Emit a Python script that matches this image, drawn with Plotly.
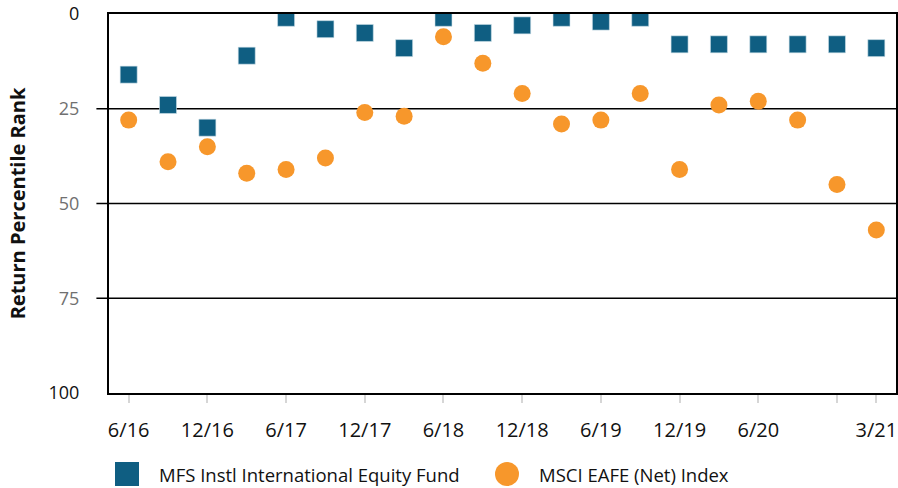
import plotly.graph_objects as go

quarters = ["6/16", "9/16", "12/16", "3/17", "6/17", "9/17", "12/17", "3/18", "6/18", "9/18",
            "12/18", "3/19", "6/19", "9/19", "12/19", "3/20", "6/20", "9/20", "12/20", "3/21"]
fund_rank = [16, 24, 30, 11, 1, 4, 5, 9, 1, 5, 3, 1, 2, 1, 8, 8, 8, 8, 8, 9]
index_rank = [28, 39, 35, 42, 41, 38, 26, 27, 6, 13, 21, 29, 28, 21, 41, 24, 23, 28, 45, 57]
tick_quarters = ["6/16", "12/16", "6/17", "12/17", "6/18", "12/18", "6/19", "12/19", "6/20", "12/20", "3/21"]
tick_labels = ["6/16", "12/16", "6/17", "12/17", "6/18", "12/18", "6/19", "12/19", "6/20", "", "3/21"]
y_ticks = [0, 25, 50, 75, 100]
grid_levels = [25, 50, 75]
series_names = ["MFS Instl International Equity Fund", "MSCI EAFE (Net) Index"]

FONT = "Open Sans"
fund_color = "#0f5e82"
index_color = "#f7972b"
text_color = "#111111"

fig = go.Figure()
fig.add_trace(go.Scatter(
    x=quarters, y=fund_rank, mode="markers", name=series_names[0], showlegend=False,
    marker=dict(symbol="square", size=17, color=fund_color, line=dict(width=0.6, color="#cfe0ea")),
))
fig.add_trace(go.Scatter(
    x=quarters, y=index_rank, mode="markers", name=series_names[1], showlegend=False,
    marker=dict(symbol="circle", size=17, color=index_color, line=dict(width=0)),
))

for lv in grid_levels:
    fig.add_shape(type="line", xref="paper", yref="y", x0=-0.016, x1=1, y0=lv, y1=lv,
                  line=dict(color="black", width=1.6), layer="below")

# manual legend (larger symbols than plotly's built-in legend allows)
PW, PH = 787.0, 379.0  # plot area size in px
leg_y = (393 - 474) / PH
fig.add_shape(type="rect", xref="paper", yref="paper", xsizemode="pixel", ysizemode="pixel",
              xanchor=(127 - 109) / PW, yanchor=leg_y, x0=-12, x1=12, y0=-12, y1=12,
              fillcolor=fund_color, line=dict(width=0))
fig.add_shape(type="circle", xref="paper", yref="paper", xsizemode="pixel", ysizemode="pixel",
              xanchor=(507 - 109) / PW, yanchor=leg_y, x0=-12, x1=12, y0=-12, y1=12,
              fillcolor=index_color, line=dict(width=0))
fig.add_annotation(x=(157 - 109) / PW, y=leg_y, xref="paper", yref="paper", xanchor="left",
                   yanchor="middle", showarrow=False, text=series_names[0],
                   font=dict(family=FONT, size=18.5, color=text_color))
fig.add_annotation(x=(537 - 109) / PW, y=leg_y, xref="paper", yref="paper", xanchor="left",
                   yanchor="middle", showarrow=False, text=series_names[1],
                   font=dict(family=FONT, size=18.5, color=text_color))

y_text = []
for v in y_ticks:
    if v in grid_levels:
        y_text.append(f'<span style="color:#707070">{v}</span>')
    else:
        y_text.append(str(v))

fig.update_layout(
    width=898, height=488,
    margin=dict(l=109, r=2, t=14, b=95),
    paper_bgcolor="white", plot_bgcolor="white",
    font=dict(family=FONT, size=18, color=text_color),
    showlegend=False,
    xaxis=dict(
        type="category", range=[-0.5, 19.5], automargin=False,
        tickmode="array", tickvals=tick_quarters, ticktext=tick_labels,
        ticks="outside", ticklen=8, tickwidth=2, tickcolor="#d6d6d6",
        ticklabelstandoff=10,
        showgrid=False, zeroline=False,
        showline=True, linecolor="black", linewidth=2, mirror=True,
        tickfont=dict(family=FONT, size=20, color=text_color),
    ),
    yaxis=dict(
        range=[100, 0], tickmode="array", tickvals=y_ticks, ticktext=y_text,
        ticks="", showgrid=False, zeroline=False, automargin=False,
        showline=True, linecolor="black", linewidth=2, mirror=True,
        tickfont=dict(family=FONT, size=18, color=text_color),
        ticklabelstandoff=24,
        title=dict(text="<b>Return Percentile Rank</b>", standoff=18,
                   font=dict(family=FONT, size=20, color=text_color)),
    ),
)

fig.write_html("out.html", config={"displayModeBar": False},
               post_script="document.body.style.margin='0';document.body.style.overflow='hidden';")
